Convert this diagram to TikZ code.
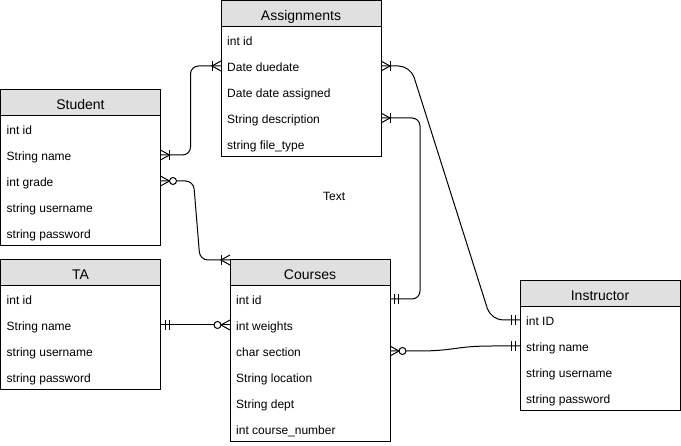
\documentclass[tikz,border=0pt]{standalone}
\usepackage{fontspec}
\setmainfont{Liberation Sans}
\usetikzlibrary{calc}
\definecolor{hdrgray}{HTML}{E0E0E0}
\tikzset{
  frame/.style={draw=black, line width=1pt},
  hdrfill/.style={fill=hdrgray},
  hdrtext/.style={inner sep=0pt, anchor=base, font=\fontsize{14}{16}\selectfont},
  rowtext/.style={inner sep=0pt, anchor=base west, font=\fontsize{12}{14}\selectfont},
  conn/.style={draw=black, line width=1pt, rounded corners=8pt},
  ermark/.style={draw=black, line width=1pt},
}
% #1 name, #2 x, #3 y top, #4 title, #5 number of rows, #6 rows
\newcommand\ertable[6]{%
  \path[hdrfill] (#2,#3) rectangle ++(160,26);
  \draw[frame] (#2,#3) rectangle ++(160,26+26*#5);
  \draw[frame] (#2,#3+26) -- ++(160,0);
  \coordinate (#1-nw) at (#2,#3);
  \node[hdrtext] (#1) at (#2+80,#3+19.3) {#4};
  \foreach \r [count=\i] in {#6} {
    \node[rowtext] (#1-\i) at (#2+6,#3+18.2+26*\i) {\r};
    \coordinate (#1-\i-w) at (#2,#3+13+26*\i);
    \coordinate (#1-\i-e) at (#2+160,#3+13+26*\i);
  }%
}
% markers: #1 coordinate, #2 direction (+1 right, -1 left)
\newcommand\ercrow[2]{\draw[ermark] ($(#1)+(0,5)$) -- ($(#1)+(#2*9,0)$) -- ($(#1)+(0,-5)$);}
\newcommand\erbar[3]{\draw[ermark] ($(#1)+(#2*#3,5)$) -- ($(#1)+(#2*#3,-5)$);}
\newcommand\erring[2]{\draw[ermark, fill=white] ($(#1)+(#2*12.5,0)$) circle[radius=3.5pt];}
\newcommand\eronemany[2]{\ercrow{#1}{#2}\erbar{#1}{#2}{9}}
\newcommand\erzeromany[2]{\ercrow{#1}{#2}\erring{#1}{#2}}
\newcommand\ermandone[2]{\erbar{#1}{#2}{4.5}\erbar{#1}{#2}{8.5}}
\begin{document}
\begin{tikzpicture}[x=1pt, y=-1pt]
\useasboundingbox (0,0) rectangle (681,446);
\ertable{a}{221}{1}{Assignments}{5}{int id, Date duedate, Date date assigned, String description, string file\_type}
\ertable{s}{0.5}{90}{Student}{5}{int id, String name, int grade, string username, string password}
\ertable{t}{0.5}{260}{TA}{4}{int id, String name, string username, string password}
\ertable{c}{230}{260}{Courses}{6}{int id, int weights, char section, String location, String dept, int course\_number}
\ertable{i}{520}{281}{Instructor}{4}{int ID, string name, string username, string password}
\node[rowtext] (txt) at (323,200.2) {Text};
% connectors
\draw[conn] (s-2-e) -- ++(30,0) |- (a-2-w);
\draw[conn] (s-3-e) -- ++(33,0) -- ($(c-nw)+(-30,0)$) -- (c-nw);
\draw[conn] (t-2-e) -- (c-2-w);
\draw[conn] (c-1-e) -- ++(30,0) |- (a-4-e);
\draw[conn, rounded corners=12pt] (a-2-e) -- ++(29.5,0) -- ($(i-1-w)+(-29,0)$) -- (i-1-w);
\draw[conn] (c-3-e) -- ++(20,0) .. controls +(45,0) and +(-45,0) .. ($(i-2-w)+(-20,0)$) -- (i-2-w);
% markers
\eronemany{s-2-e}{1}
\eronemany{a-2-w}{-1}
\erzeromany{s-3-e}{1}
\eronemany{c-nw}{-1}
\ermandone{t-2-e}{1}
\erzeromany{c-2-w}{-1}
\ermandone{c-1-e}{1}
\eronemany{a-4-e}{1}
\eronemany{a-2-e}{1}
\ermandone{i-1-w}{-1}
\erzeromany{c-3-e}{1}
\ermandone{i-2-w}{-1}
\end{tikzpicture}
\end{document}
